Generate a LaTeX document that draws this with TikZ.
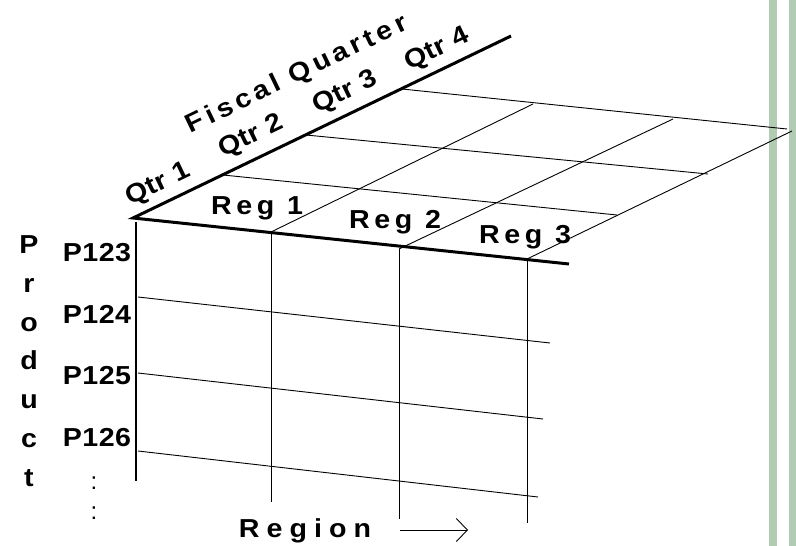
\documentclass[tikz,border=0pt]{standalone}
\usepackage{fontspec}
\setmainfont{Liberation Sans}
\newfontfamily\lblfamily{Liberation Sans}[FakeStretch=1.1]
\usetikzlibrary{arrows.meta}
\definecolor{barGreen}{RGB}{178,204,180}

% tracked (letter-spaced) text
\newcommand\tracked[2]{{\addfontfeatures{LetterSpace=#1}#2}}

\tikzset{
  axisline/.style={line width=3pt},
  prodline/.style={line width=2.5pt},
  gridline/.style={line width=0.9pt},
  lbl/.style={font=\lblfamily\fontsize{26}{30}\selectfont\bfseries, inner sep=0pt},
  qlbl/.style={lbl, rotate=25.7},
  dotlbl/.style={font=\fontsize{24}{28}\selectfont, inner sep=0pt, anchor=base},
}

\begin{document}
\begin{tikzpicture}[x=1pt, y=-1pt]
\useasboundingbox (0,0) rectangle (796,546);

% side bars
\fill[barGreen] (769,0) rectangle (777,546);
\fill[barGreen] (789,0) rectangle (796,546);

% corner and axis ends
\coordinate (O)    at (133,218);
\coordinate (Qend) at (511,36);
\coordinate (Rend) at (569,264);
\coordinate (Ptop) at (136,222);
\coordinate (Pbot) at (136,481);

% quarter division points on the quarter axis
\coordinate (Q1) at (223,175);
\coordinate (Q2) at (306,135);
\coordinate (Q3) at (402,89);
% far ends of the quarter rows
\coordinate (Q1e) at (617,215);
\coordinate (Q2e) at (708,174);
\coordinate (Q3e) at (787,129);

% region division points on the region axis
\coordinate (R1) at (271,232);
\coordinate (R2) at (399,249);
\coordinate (R3) at (527,259);
% far ends of the region columns (top face)
\coordinate (R1e) at (533,104);
\coordinate (R2e) at (673,119);
\coordinate (R3e) at (792,131);
% lower ends of the region columns (front face)
\coordinate (R1b) at (271,502);
\coordinate (R2b) at (399,519);
\coordinate (R3b) at (527,523);

% product rows on the front face
\coordinate (P1s) at (138,297); \coordinate (P1e) at (550,343);
\coordinate (P2s) at (138,373); \coordinate (P2e) at (543,419);
\coordinate (P3s) at (138,451); \coordinate (P3e) at (538,497);

% top face grid
\draw[gridline] (Q1) -- (Q1e);
\draw[gridline] (Q2) -- (Q2e);
\draw[gridline] (Q3) -- (Q3e);
\draw[gridline] (R1) -- (R1e);
\draw[gridline] (R2) -- (R2e);
\draw[gridline] (R3) -- (R3e);

% front face grid
\draw[gridline] (R1) -- (R1b);
\draw[gridline] (R2) -- (R2b);
\draw[gridline] (R3) -- (R3b);
\draw[gridline] (P1s) -- (P1e);
\draw[gridline] (P2s) -- (P2e);
\draw[gridline] (P3s) -- (P3e);

% main axes
\draw[axisline] (Qend) -- (O) -- (Rend);
\draw[prodline] (Ptop) -- (Pbot);

% quarter labels
\node[qlbl] (fq) at (297,75)  {\tracked{16}{Fiscal Quarter}};
\node[qlbl] (q1) at (158,185) {\tracked{2}{Qtr 1}};
\node[qlbl] (q2) at (251,137) {\tracked{2}{Qtr 2}};
\node[qlbl] (q3) at (345,93)  {\tracked{2}{Qtr 3}};
\node[qlbl] (q4) at (437,50)  {\tracked{2}{Qtr 4}};

% region labels
\node[lbl, anchor=base] (r1) at (257,214.5) {\tracked{18}{Reg 1}};
\node[lbl, anchor=base] (r2) at (395,228)   {\tracked{18}{Reg 2}};
\node[lbl, anchor=base] (r3) at (525,243)   {\tracked{18}{Reg 3}};

% product labels
\node[lbl, anchor=base] (p1) at (97,261) {\tracked{2}{P123}};
\node[lbl, anchor=base] (p2) at (97,323) {\tracked{2}{P124}};
\node[lbl, anchor=base] (p3) at (97,384) {\tracked{2}{P125}};
\node[lbl, anchor=base] (p4) at (97,446) {\tracked{2}{P126}};
\node[dotlbl] (d1) at (94,489.5) {:};
\node[dotlbl] (d2) at (94,519.5) {:};

% vertical "Product" title
\foreach \ch [count=\i from 0] in {P,r,o,d,u,c,t}
  \node[lbl, anchor=base] (pt\i) at (29,253.5+38.8*\i) {\ch};

% region title with arrow
\node[lbl, anchor=base] (rg) at (305,537) {\tracked{27}{Region}};
\coordinate (ra) at (400,530);
\coordinate (rb) at (468,530);
\draw[gridline, -{Straight Barb[length=11pt, width=23pt, line width=0.9pt]}] (ra) -- (rb);

\end{tikzpicture}
\end{document}
